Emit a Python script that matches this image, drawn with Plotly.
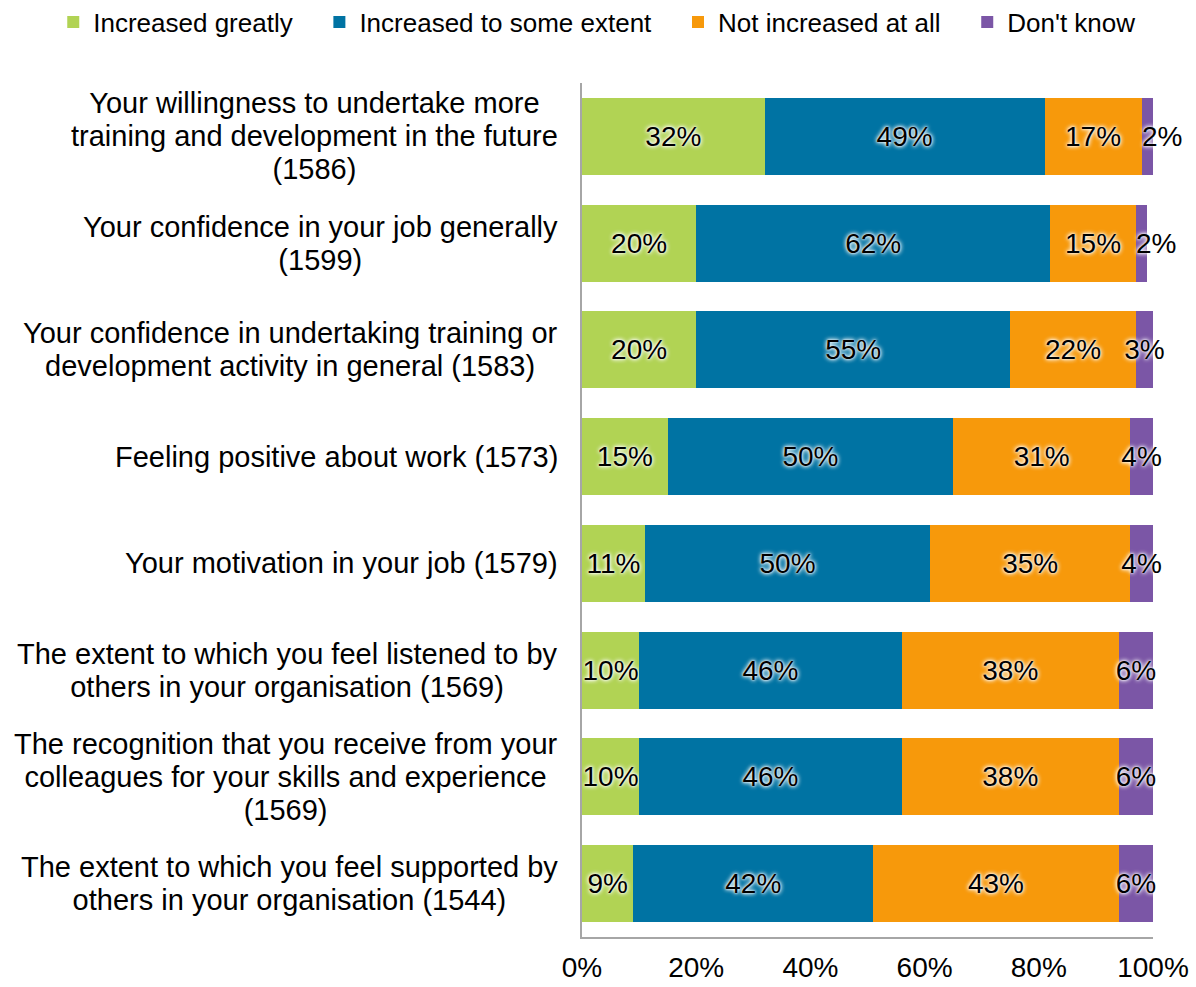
import plotly.graph_objects as go

categories = [
    "Your willingness to undertake more<br>training and development in the future<br>(1586)",
    "Your confidence in your job generally<br>(1599)",
    "Your confidence in undertaking training or<br>development activity in general (1583)",
    "Feeling positive about work (1573)",
    "Your motivation in your job (1579)",
    "The extent to which you feel listened to by<br>others in your organisation (1569)",
    "The recognition that you receive from your<br>colleagues for your skills and experience<br>(1569)",
    "The extent to which you feel supported by<br>others in your organisation (1544)",
]

greatly = [32, 20, 20, 15, 11, 10, 10, 9]
some_extent = [49, 62, 55, 50, 50, 46, 46, 42]
not_at_all = [17, 15, 22, 31, 35, 38, 38, 43]
dont_know = [2, 2, 3, 4, 4, 6, 6, 6]

series = [
    ("Increased greatly", greatly, "#B1D354"),
    ("Increased to some extent", some_extent, "#0073A3"),
    ("Not increased at all", not_at_all, "#F7990B"),
    ("Don't know", dont_know, "#7B56A6"),
]

FONT = "Liberation Sans, Arial, sans-serif"
GLOW = "0px 0px 2px white, 0px 0px 4px white, 0px 0px 5px white"
ids = list(range(len(categories)))

fig = go.Figure()
for name, vals, color in series:
    fig.add_trace(go.Bar(
        y=ids, x=vals, name=name + "\u00a0\u00a0\u00a0", orientation="h",
        marker=dict(color=color, line=dict(width=0)),
        text=[f"{v}%" for v in vals],
        # very thin segments are labelled separately below
        textposition=["none" if v <= 2 else "inside" for v in vals],
        insidetextanchor="middle",
        textangle=0, constraintext="none", cliponaxis=False,
        textfont=dict(family=FONT, size=28, color="black", shadow=GLOW),
        hoverinfo="skip",
    ))

# labels for the thin "Don't know" slivers start at the segment and run past the bar
for i, v in enumerate(dont_know):
    if v <= 2:
        start = greatly[i] + some_extent[i] + not_at_all[i]
        fig.add_annotation(x=start, y=i, xref="x", yref="y", text=f"{v}%",
                           showarrow=False, xanchor="left", xshift=-2,
                           font=dict(family=FONT, size=28, color="black", shadow=GLOW))

# category labels: lines centred, tighter line spacing than plotly's default
for i, cat in enumerate(categories):
    lines = cat.split("<br>")
    txt = "<br>".join(f"<span style='font-size:29px'>{ln}</span>" for ln in lines)
    fig.add_annotation(
        x=0, xref="paper", y=i, yref="y", text=txt, showarrow=False,
        xanchor="right", xshift=-22, align="center",
        font=dict(family=FONT, size=25.4, color="black"),
    )

fig.update_layout(
    barmode="stack",
    bargap=0.28,
    width=1196, height=987,
    margin=dict(l=582, r=43, t=83, b=50, autoexpand=False),
    paper_bgcolor="white", plot_bgcolor="white",
    font=dict(family=FONT, size=28, color="black"),
    showlegend=True,
    legend=dict(orientation="h", x=-0.926, xanchor="left",
                y=1.0714, yanchor="middle",
                font=dict(family=FONT, size=26, color="black"),
                traceorder="normal"),
)
fig.update_xaxes(range=[0, 100], tickvals=[0, 20, 40, 60, 80, 100],
                 ticktext=["0%", "20%", "40%", "60%", "80%", "100%"],
                 showgrid=False, zeroline=False, showline=True,
                 linecolor="#A6A6A6", linewidth=1.5, ticks="", ticklabelstandoff=5)
fig.update_yaxes(autorange="reversed", showticklabels=False, showgrid=False,
                 zeroline=False, showline=True, linecolor="#A6A6A6", linewidth=1.5,
                 ticks="")

# drop the browser's default body margin so the figure fills the window
fig.write_html("out.html", config={"displayModeBar": False},
               post_script="document.body.style.margin='0';")
